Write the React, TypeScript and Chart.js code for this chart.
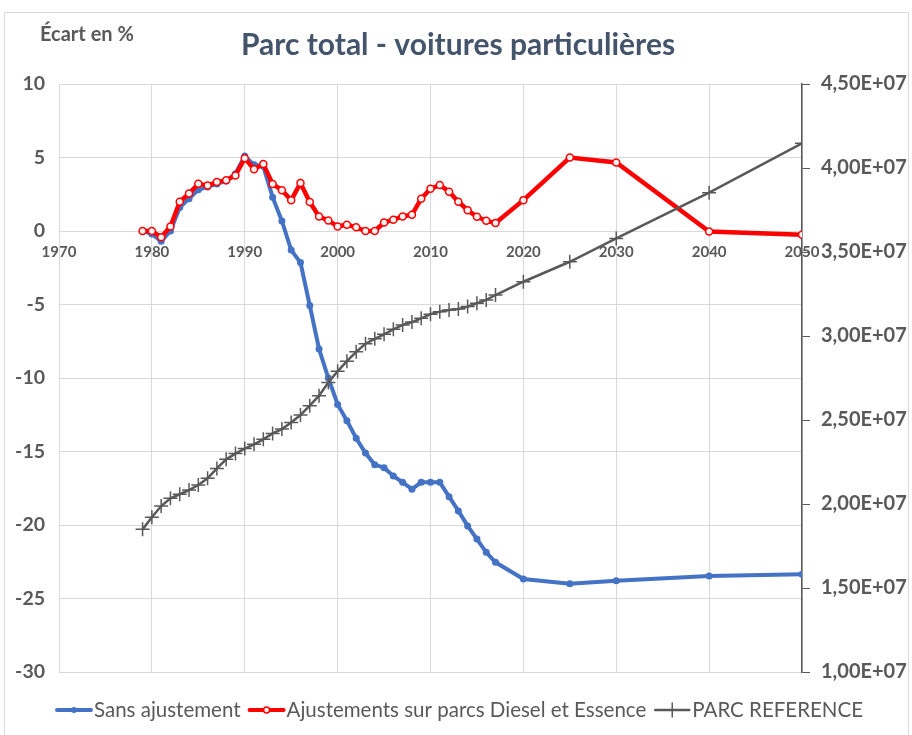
import React, { useEffect, useRef } from "react";
import { Chart, registerables } from "chart.js";

Chart.register(...registerables);

const years = [
  1979, 1980, 1981, 1982, 1983, 1984, 1985, 1986, 1987, 1988, 1989,
  1990, 1991, 1992, 1993, 1994, 1995, 1996, 1997, 1998, 1999,
  2000, 2001, 2002, 2003, 2004, 2005, 2006, 2007, 2008, 2009,
  2010, 2011, 2012, 2013, 2014, 2015, 2016, 2017,
  2020, 2025, 2030, 2040, 2050,
];

const sansAjustement = [
  0, -0.2, -0.7, 0.0, 1.6, 2.2, 2.8, 3.0, 3.2, 3.4, 3.9,
  5.1, 4.5, 4.4, 2.3, 0.68, -1.3, -2.15, -5.07, -8.03, -10.0,
  -11.8, -12.9, -14.1, -15.1, -15.9, -16.1, -16.66, -17.1, -17.56, -17.1,
  -17.1, -17.1, -18.07, -19.04, -20.06, -20.96, -21.86, -22.54,
  -23.67, -24.0, -23.8, -23.47, -23.35,
];

const ajustements = [
  0, 0, -0.43, 0.31, 1.99, 2.55, 3.21, 3.1, 3.33, 3.46, 3.78,
  4.95, 4.2, 4.55, 3.2, 2.78, 2.1, 3.26, 1.97, 0.99, 0.72,
  0.31, 0.43, 0.25, 0.0, 0.0, 0.58, 0.77, 0.99, 1.1, 2.2,
  2.87, 3.13, 2.67, 1.99, 1.42, 0.97, 0.7, 0.54,
  2.1, 5.0, 4.66, -0.03, -0.25,
];

// millions of vehicles
const parcReferenceM = [
  18.49, 19.21, 19.88, 20.34, 20.58, 20.83, 21.13, 21.53, 22.12, 22.66, 23.0,
  23.3, 23.55, 23.85, 24.2, 24.46, 24.85, 25.3, 25.85, 26.45, 27.23,
  27.9, 28.5, 29.06, 29.54, 29.83, 30.1, 30.4, 30.66, 30.83, 31.05,
  31.3, 31.45, 31.55, 31.61, 31.75, 31.95, 32.15, 32.44,
  33.23, 34.42, 35.81, 38.53, 41.47,
];

const xTicks = [1970, 1980, 1990, 2000, 2010, 2020, 2030, 2040, 2050];
const titleText = "Parc total - voitures particulières";
const leftAxisTitle = "Écart en %";
const legendLabels = [
  "Sans ajustement",
  "Ajustements sur parcs Diesel et Essence",
  "PARC REFERENCE",
];

const BLUE = "#4472C4";
const RED = "#FF0000";
const DARK = "#595959";
const GRID = "#D9D9D9";
const FONT = "Lato, 'Open Sans', sans-serif";

const decorPlugin = {
  id: "decor",
  beforeDraw(chart: any) {
    const ctx = chart.ctx;
    ctx.save();
    ctx.fillStyle = "#FFFFFF";
    ctx.fillRect(0, 0, chart.width, chart.height);
    ctx.strokeStyle = GRID;
    ctx.lineWidth = 1;
    ctx.strokeRect(4.5, 12.5, 904, 740);
    ctx.restore();
  },
  afterDraw(chart: any) {
    const ctx = chart.ctx;
    ctx.save();
    // title
    ctx.fillStyle = "#44546A";
    ctx.font = `bold 30px ${FONT}`;
    ctx.textAlign = "center";
    ctx.textBaseline = "middle";
    ctx.fillText(titleText, 458, 45);
    // axis title
    ctx.fillStyle = DARK;
    ctx.font = `bold 20px ${FONT}`;
    ctx.textAlign = "left";
    ctx.fillText(leftAxisTitle, 40, 35);

    // legend
    ctx.font = `20.5px ${FONT}`;
    const lineLen = 34;
    const gapText = 3;
    const gapItem = 9;
    const widths = legendLabels.map((l) => ctx.measureText(l).width);
    const total =
      widths.reduce((a, b) => a + b, 0) + legendLabels.length * (lineLen + gapText) + gapItem * (legendLabels.length - 1);
    let x = 460 - total / 2;
    const y = 710;
    const colors = [BLUE, RED, DARK];
    legendLabels.forEach((label, i) => {
      ctx.strokeStyle = colors[i];
      ctx.lineWidth = i === 2 ? 2.5 : 4;
      ctx.lineCap = "round";
      ctx.beginPath();
      ctx.moveTo(x, y);
      ctx.lineTo(x + lineLen, y);
      ctx.stroke();
      const cx = x + lineLen / 2;
      if (i === 0) {
        ctx.fillStyle = BLUE;
        ctx.beginPath();
        ctx.arc(cx, y, 3, 0, Math.PI * 2);
        ctx.fill();
      } else if (i === 1) {
        ctx.fillStyle = "#F2F2F2";
        ctx.strokeStyle = RED;
        ctx.lineWidth = 1.5;
        ctx.beginPath();
        ctx.arc(cx, y, 3, 0, Math.PI * 2);
        ctx.fill();
        ctx.stroke();
      } else {
        ctx.strokeStyle = DARK;
        ctx.lineWidth = 1.5;
        ctx.beginPath();
        ctx.moveTo(cx, y - 7);
        ctx.lineTo(cx, y + 7);
        ctx.stroke();
      }
      ctx.fillStyle = DARK;
      ctx.textAlign = "left";
      ctx.textBaseline = "middle";
      ctx.fillText(label, x + lineLen + gapText, y);
      x += lineLen + gapText + widths[i] + gapItem;
    });
    ctx.restore();
  },
};

export default function App() {
  const ref = useRef<HTMLCanvasElement | null>(null);

  useEffect(() => {
    if (!ref.current) return;
    const toPts = (vals: number[], k = 1) => years.map((yr, i) => ({ x: yr, y: vals[i] * k }));
    const chart = new Chart(ref.current, {
      type: "line",
      data: {
        datasets: [
          {
            label: legendLabels[0],
            data: toPts(sansAjustement),
            borderColor: BLUE,
            backgroundColor: BLUE,
            borderWidth: 4,
            pointRadius: 3.5,
            pointBorderWidth: 0,
            pointBackgroundColor: BLUE,
            yAxisID: "y",
            order: 3,
            tension: 0,
          },
          {
            label: legendLabels[1],
            data: toPts(ajustements),
            borderColor: RED,
            backgroundColor: RED,
            borderWidth: 4.5,
            pointRadius: 3.5,
            pointBorderWidth: 1.5,
            pointBorderColor: RED,
            pointBackgroundColor: "#F2F2F2",
            yAxisID: "y",
            order: 2,
            tension: 0,
          },
          {
            label: legendLabels[2],
            data: toPts(parcReferenceM, 1e6),
            borderColor: DARK,
            backgroundColor: DARK,
            borderWidth: 2.5,
            pointStyle: "cross",
            pointRadius: 7,
            pointBorderWidth: 1.5,
            pointBorderColor: DARK,
            yAxisID: "y1",
            order: 1,
            tension: 0,
          },
        ],
      },
      options: {
        responsive: false,
        animation: false,
        devicePixelRatio: 1,
        layout: { padding: { top: 84, bottom: 63, left: 0, right: 0 } },
        plugins: {
          legend: { display: false },
          title: { display: false },
          tooltip: { enabled: false },
        },
        scales: {
          x: {
            type: "linear",
            min: 1970,
            max: 2050,
            position: { y: 0 } as any,
            afterBuildTicks: (s: any) => {
              s.ticks = xTicks.map((v) => ({ value: v }));
            },
            ticks: {
              callback: (v: any) => String(v),
              color: DARK,
              font: { family: FONT, size: 15, weight: "bold" },
              padding: 12,
              maxRotation: 0,
              autoSkip: false,
            },
            grid: { color: GRID, lineWidth: 1, drawTicks: false },
            border: { color: GRID, width: 1 },
          },
          y: {
            type: "linear",
            position: "left",
            min: -30,
            max: 10,
            ticks: {
              stepSize: 5,
              color: DARK,
              font: { family: FONT, size: 19.5, weight: "bold" },
              padding: 14,
            },
            grid: { color: GRID, lineWidth: 1, drawTicks: false },
            border: { color: GRID, width: 1 },
            afterFit: (s: any) => {
              s.width = 59;
            },
          },
          y1: {
            type: "linear",
            position: "right",
            min: 1e7,
            max: 4.5e7,
            ticks: {
              stepSize: 5e6,
              color: DARK,
              font: { family: FONT, size: 20, weight: "bold" },
              padding: 11,
              callback: (v: any) => (Number(v) / 1e7).toFixed(2).replace(".", ",") + "E+07",
            },
            grid: { drawOnChartArea: false, drawTicks: true, tickLength: 8, color: DARK, lineWidth: 1 },
            border: { color: DARK, width: 1.5 },
            afterFit: (s: any) => {
              s.width = 110;
            },
          },
        },
      },
      plugins: [decorPlugin],
    });
    return () => chart.destroy();
  }, []);

  return (
    <div style={{ position: "fixed", left: 0, top: 0, width: 912, height: 735, background: "#fff" }}>
      <canvas ref={ref} width={912} height={735} style={{ width: 912, height: 735, display: "block" }} />
    </div>
  );
}
